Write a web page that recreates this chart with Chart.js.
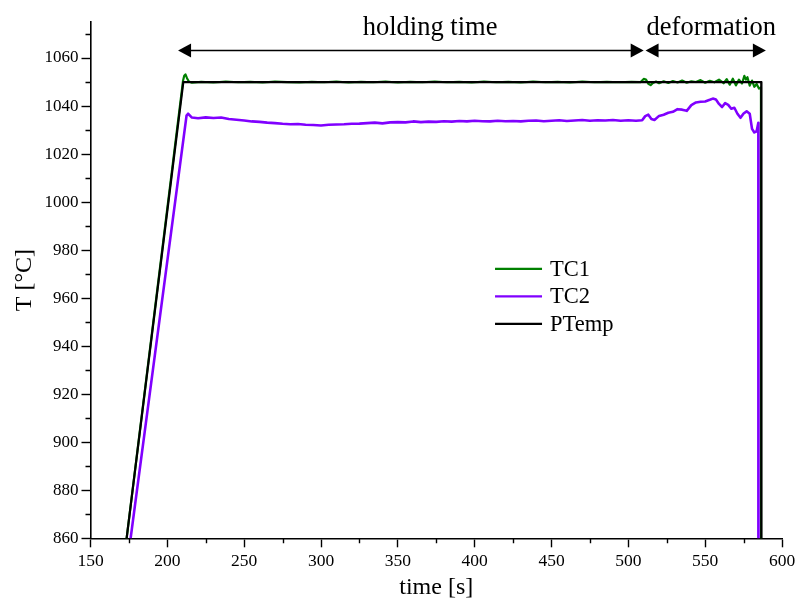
<!DOCTYPE html>
<html>
<head>
<meta charset="utf-8">
<script src="https://cdn.jsdelivr.net/npm/chart.js@4/dist/chart.umd.min.js"></script>
<style>
  html, body { margin: 0; padding: 0; background: #fff; }
  #wrap { width: 795px; height: 602px; position: relative; }
</style>
</head>
<body>
<div id="wrap"><canvas id="c" width="795" height="602"></canvas></div>
<script>
// ---- measured temperatures ----
const ptempTime = [165, 173.5, 210.4, 586.5, 586.6];
const ptempTemp = [816.2, 860, 1050, 1050, 600];

const tc1Time = [165, 173.5, 210.2, 211, 211.8, 212.8, 214, 216, 222, 230, 238, 246, 254, 262, 270, 278,
  286, 294, 302, 310, 318, 326, 334, 342, 350, 358, 366, 374, 382, 390, 398, 406, 414, 422, 430, 438,
  446, 454, 462, 470, 478, 486, 494, 502, 508, 510, 511.5, 513, 514.5, 516, 518, 520, 523, 526, 529,
  532, 535, 538, 541, 544, 547, 550, 553, 556, 559, 562, 564, 566, 568, 570, 572, 574, 575.5, 576.5,
  577.5, 579, 580.5, 582, 583.5, 585, 586.3, 586.5];
const tc1Temp = [816.4, 860, 1050.5, 1052.6, 1053.2, 1051.6, 1050.2, 1049.7, 1050.1, 1049.8, 1050.2, 1049.9,
  1050.1, 1049.8, 1050.2, 1050.0, 1049.8, 1050.1, 1049.9, 1050.2, 1049.8, 1050.1, 1049.9, 1050.2, 1049.8,
  1050.1, 1049.9, 1050.2, 1049.9, 1050.1, 1049.8, 1050.2, 1049.9, 1050.1, 1049.8, 1050.2, 1049.9, 1050.1,
  1049.8, 1050.2, 1049.9, 1050.1, 1049.9, 1050.1, 1050.0, 1051.3, 1051.0, 1049.3, 1048.7, 1049.6, 1050.2,
  1049.5, 1050.3, 1049.6, 1050.4, 1049.8, 1050.6, 1049.7, 1050.3, 1050.0, 1050.8, 1049.7, 1050.5, 1049.9,
  1051.0, 1049.5, 1051.2, 1048.9, 1051.4, 1048.6, 1051.0, 1049.4, 1052.6, 1051.0, 1052.0, 1048.5, 1050.6,
  1048.0, 1049.2, 1047.3, 1047.8, 600];

const tc2Time = [170, 176.1, 212.5, 213.5, 216, 220, 225, 230, 235, 240, 245, 250, 255, 260, 265, 270, 275,
  280, 285, 290, 295, 300, 305, 310, 315, 320, 325, 330, 335, 340, 345, 350, 355, 360, 365, 370, 375, 380,
  385, 390, 395, 400, 405, 410, 415, 420, 425, 430, 435, 440, 445, 450, 455, 460, 465, 470, 475, 480, 485,
  490, 495, 500, 505, 509, 511, 513, 515, 517, 520, 523, 526, 529, 532, 535, 538, 541, 544, 547, 550, 553,
  555, 557, 559, 561, 563, 565, 567, 569, 571, 573, 575, 577, 579, 580.5, 582, 583.5, 584.6, 584.7];
const tc2Temp = [830.5, 860, 1036, 1036.8, 1035.2, 1034.9, 1035.3, 1035.0, 1035.2, 1034.6, 1034.3, 1034.0,
  1033.6, 1033.4, 1033.1, 1032.9, 1032.6, 1032.4, 1032.5, 1032.2, 1032.1, 1031.9, 1032.2, 1032.3, 1032.4,
  1032.6, 1032.7, 1032.9, 1033.1, 1032.8, 1033.2, 1033.3, 1033.2, 1033.6, 1033.3, 1033.5, 1033.4, 1033.7,
  1033.5, 1033.8, 1033.6, 1033.9, 1033.7, 1033.6, 1033.9, 1033.7, 1033.8, 1033.6, 1033.9, 1034.0, 1033.7,
  1033.9, 1034.1, 1033.8, 1034.0, 1034.2, 1033.9, 1034.1, 1034.0, 1034.2, 1033.9, 1034.1, 1033.9, 1034.1,
  1035.8, 1036.4, 1034.6, 1034.2, 1035.9, 1036.4, 1037.2, 1037.6, 1038.7, 1038.5, 1038.0, 1040.4, 1041.5,
  1041.8, 1041.9, 1042.6, 1043.1, 1042.7, 1040.9, 1039.6, 1041.2, 1040.5, 1038.9, 1039.3, 1036.8, 1035.1,
  1036.9, 1037.8, 1036.8, 1030.5, 1029.0, 1029.5, 1033.0, 600];

// ---- axes ----
const xTicks = [150, 200, 250, 300, 350, 400, 450, 500, 550, 600];
const yTicks = [860, 880, 900, 920, 940, 960, 980, 1000, 1020, 1040, 1060];

// ---- process phases (time spans, s) ----
const phaseLabels = ['holding time', 'deformation'];
const phaseStart = [207, 511.2];
const phaseEnd = [510.0, 589.5];
const phaseLabelAt = [371, 554];

const SERIF = '"Liberation Serif", "Times New Roman", serif';

const toXY = (t, v) => t.map((x, i) => ({ x, y: v[i] }));

// minor tick marks halfway between labelled ticks
const minorTicks = {
  id: 'minorTicks',
  afterDraw(chart) {
    const { ctx, chartArea: a, scales: { x, y } } = chart;
    ctx.save();
    ctx.strokeStyle = '#000';
    ctx.lineWidth = 1.4;
    ctx.beginPath();
    for (let i = 0; i < yTicks.length - 1; i++) {
      const py = Math.round(y.getPixelForValue((yTicks[i] + yTicks[i + 1]) / 2)) + 0.5;
      ctx.moveTo(a.left - 5, py); ctx.lineTo(a.left, py);
    }
    const top = yTicks[yTicks.length - 1] + 10;
    if (top <= y.max) {
      const py = Math.round(y.getPixelForValue(top)) + 0.5;
      ctx.moveTo(a.left - 5, py); ctx.lineTo(a.left, py);
    }
    for (let i = 0; i < xTicks.length - 1; i++) {
      const px = Math.round(x.getPixelForValue((xTicks[i] + xTicks[i + 1]) / 2)) + 0.5;
      ctx.moveTo(px, a.bottom); ctx.lineTo(px, a.bottom + 5);
    }
    ctx.stroke();
    ctx.restore();
  }
};

// double-headed arrows marking the process phases
const phaseArrows = {
  id: 'phaseArrows',
  afterDraw(chart) {
    const { ctx, scales: { x, y } } = chart;
    const ay = Math.round(y.getPixelForValue(1063.2)) + 0.5;
    const ty = y.getPixelForValue(1072.4);
    const L = 13, H = 7;
    ctx.save();
    ctx.strokeStyle = '#000';
    ctx.fillStyle = '#000';
    ctx.lineWidth = 1.3;
    phaseLabels.forEach((lab, i) => {
      const x0 = x.getPixelForValue(phaseStart[i]);
      const x1 = x.getPixelForValue(phaseEnd[i]);
      ctx.beginPath();
      ctx.moveTo(x0 + L - 1, ay); ctx.lineTo(x1 - L + 1, ay);
      ctx.stroke();
      ctx.beginPath();
      ctx.moveTo(x0, ay); ctx.lineTo(x0 + L, ay - H); ctx.lineTo(x0 + L, ay + H); ctx.closePath();
      ctx.fill();
      ctx.beginPath();
      ctx.moveTo(x1, ay); ctx.lineTo(x1 - L, ay - H); ctx.lineTo(x1 - L, ay + H); ctx.closePath();
      ctx.fill();
      ctx.font = '26.5px ' + SERIF;
      ctx.textAlign = 'center';
      ctx.textBaseline = 'middle';
      ctx.fillText(lab, x.getPixelForValue(phaseLabelAt[i]), ty);
    });
    ctx.restore();
  }
};

// legend box inside the plot
const innerLegend = {
  id: 'innerLegend',
  afterDraw(chart) {
    const { ctx, chartArea: a } = chart;
    const order = [1, 2, 0];
    const lx = a.left + (a.right - a.left) * 0.585;
    let ly = a.top + (a.bottom - a.top) * 0.478;
    ctx.save();
    ctx.font = '22.5px ' + SERIF;
    ctx.textBaseline = 'middle';
    ctx.fillStyle = '#000';
    order.forEach(di => {
      const ds = chart.data.datasets[di];
      ctx.strokeStyle = ds.borderColor;
      ctx.lineWidth = 2.2;
      ctx.beginPath();
      ctx.moveTo(lx, ly); ctx.lineTo(lx + 47, ly);
      ctx.stroke();
      ctx.fillText(ds.label, lx + 55, ly + 1);
      ly += 27.5;
    });
    ctx.restore();
  }
};

const plain = v => String(v);

new Chart(document.getElementById('c'), {
  type: 'line',
  data: {
    datasets: [
      { label: 'PTemp', data: toXY(ptempTime, ptempTemp), borderColor: '#000000', borderWidth: 2.2, order: 0 },
      { label: 'TC1', data: toXY(tc1Time, tc1Temp), borderColor: '#008000', borderWidth: 2.2, order: 1 },
      { label: 'TC2', data: toXY(tc2Time, tc2Temp), borderColor: '#8000ff', borderWidth: 2.6, order: 2 }
    ]
  },
  options: {
    responsive: false,
    animation: false,
    events: [],
    elements: { point: { radius: 0 }, line: { tension: 0, borderJoinStyle: 'round' } },
    layout: { padding: { top: 22, right: 13, left: 0, bottom: 0 } },
    plugins: { legend: { display: false }, tooltip: { enabled: false } },
    scales: {
      x: {
        type: 'linear',
        min: 150, max: 600,
        afterBuildTicks: s => { s.ticks = xTicks.map(v => ({ value: v })); },
        afterFit: s => { s.height = 63.7; s.paddingLeft = 0; s.paddingRight = 0; },
        ticks: { color: '#000', font: { family: SERIF, size: 17.5 }, padding: 4, maxRotation: 0, callback: plain },
        grid: { drawOnChartArea: false, tickLength: 9, tickColor: '#000', tickWidth: 1.4 },
        border: { color: '#000', width: 1.6 },
        title: { display: true, text: 'time [s]', color: '#000', font: { family: SERIF, size: 24 }, padding: { top: 0, bottom: 0 } }
      },
      y: {
        type: 'linear',
        min: 860, max: 1075,
        afterBuildTicks: s => { s.ticks = yTicks.map(v => ({ value: v })); },
        afterFit: s => { s.width = 90.5; s.paddingTop = 0; s.paddingBottom = 0; },
        ticks: { color: '#000', font: { family: SERIF, size: 17 }, padding: 3, callback: plain },
        grid: { drawOnChartArea: false, tickLength: 9, tickColor: '#000', tickWidth: 1.4 },
        border: { color: '#000', width: 1.6 },
        title: { display: true, text: 'T [°C]', color: '#000', font: { family: SERIF, size: 24 }, padding: { top: 10, bottom: 0 } }
      }
    }
  },
  plugins: [minorTicks, phaseArrows, innerLegend]
});
</script>
</body>
</html>
